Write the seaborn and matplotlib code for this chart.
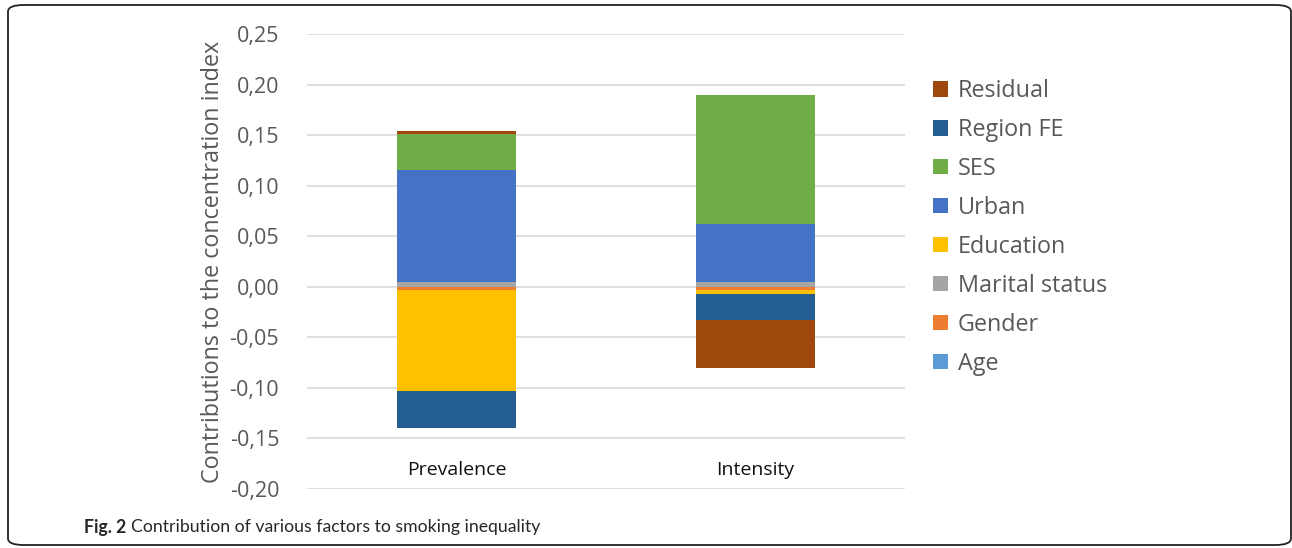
import numpy as np
import pandas as pd
import matplotlib
matplotlib.use("Agg")
import matplotlib.pyplot as plt
import seaborn as sns
from matplotlib.patches import Patch, FancyBboxPatch

categories = ["Prevalence", "Intensity"]
age = [-0.0004, -0.0004]
gender = [-0.0032, -0.0032]
marital = [0.0047, 0.0047]
education = [-0.0990, -0.0033]
urban = [0.1104, 0.0577]
ses = [0.0364, 0.1277]
region_fe = [-0.0369, -0.0264]
residual = [0.0023, -0.0471]

series_names = ["Age", "Gender", "Marital status", "Education", "Urban", "SES", "Region FE", "Residual"]
series_values = [age, gender, marital, education, urban, ses, region_fe, residual]
colors = ["#5B9BD5", "#ED7D31", "#A5A5A5", "#FFC000", "#4472C4", "#70AD47", "#255E91", "#9E480E"]
yticks = [-0.20, -0.15, -0.10, -0.05, 0.00, 0.05, 0.10, 0.15, 0.20, 0.25]

sns.set_theme(style="white")
plt.rcParams['font.family'] = ['Open Sans', 'DejaVu Sans']

fig = plt.figure(figsize=(12.92, 5.48), dpi=100)
ax = fig.add_axes([307/1292, 1-489/548, (905-307)/1292, (489-34)/548])

pos_base = np.zeros(len(categories))
neg_base = np.zeros(len(categories))
for name, vals, col in zip(series_names, series_values, colors):
    v = np.array(vals, dtype=float)
    bottom = np.where(v >= 0, pos_base, neg_base)
    df = pd.DataFrame({"cat": categories, "val": v})
    sns.barplot(data=df, x="cat", y="val", order=categories, color=col,
                width=0.4, bottom=bottom, ax=ax, linewidth=0, saturation=1,
                errorbar=None)
    pos_base = pos_base + np.where(v >= 0, v, 0)
    neg_base = neg_base + np.where(v < 0, v, 0)

ax.set_ylim(-0.20, 0.25)
ax.set_xlim(-0.5, 1.5)
ax.set_yticks(yticks)
ax.set_yticklabels([f"{t:.2f}".replace(".", ",") for t in yticks], fontsize=15.5, color="#595959")
ax.yaxis.grid(True, color="#d9d9d9", linewidth=1.2)
ax.set_axisbelow(True)
for s in ax.spines.values():
    s.set_visible(False)
ax.tick_params(axis="y", length=0, pad=20)
ax.set_xticks([])
ax.set_xlabel("")
ax.set_ylabel("Contributions to the concentration index", fontsize=16.8, color="#595959", labelpad=3)
for i, c in enumerate(categories):
    ax.text(i, -0.181, c, ha="center", va="center", fontsize=14, color="#111111")

handles = [Patch(facecolor=c, edgecolor="none", label=n) for n, c in zip(series_names, colors)][::-1]
fig.legend(handles=handles, loc="upper left", bbox_to_anchor=(912/1292, 1-58/548),
           frameon=False, fontsize=16.8, handlelength=0.65, handleheight=0.65,
           handletextpad=0.4, labelspacing=0.64, labelcolor="#595959")

border = FancyBboxPatch((8/1292, 3/548), (1291-8)/1292, (540-0)/548,
                        boxstyle="round,pad=0,rounding_size=0.012",
                        transform=fig.transFigure, fill=False, edgecolor="#222222",
                        linewidth=1.3, clip_on=False)
fig.patches.append(border)

cap_font = ['Lato', 'DejaVu Sans']
t1 = fig.text(84/1292, 1-527/548, "Fig. 2", fontsize=12.7, va="center", ha="left",
              fontweight="bold", family=cap_font)
fig.canvas.draw()
bb = t1.get_window_extent()
fig.text((bb.x1 + 5)/1292, 1-527/548, "Contribution of various factors to smoking inequality",
         fontsize=12.7, va="center", ha="left", family=cap_font)

fig.savefig("out.png", dpi=100)
